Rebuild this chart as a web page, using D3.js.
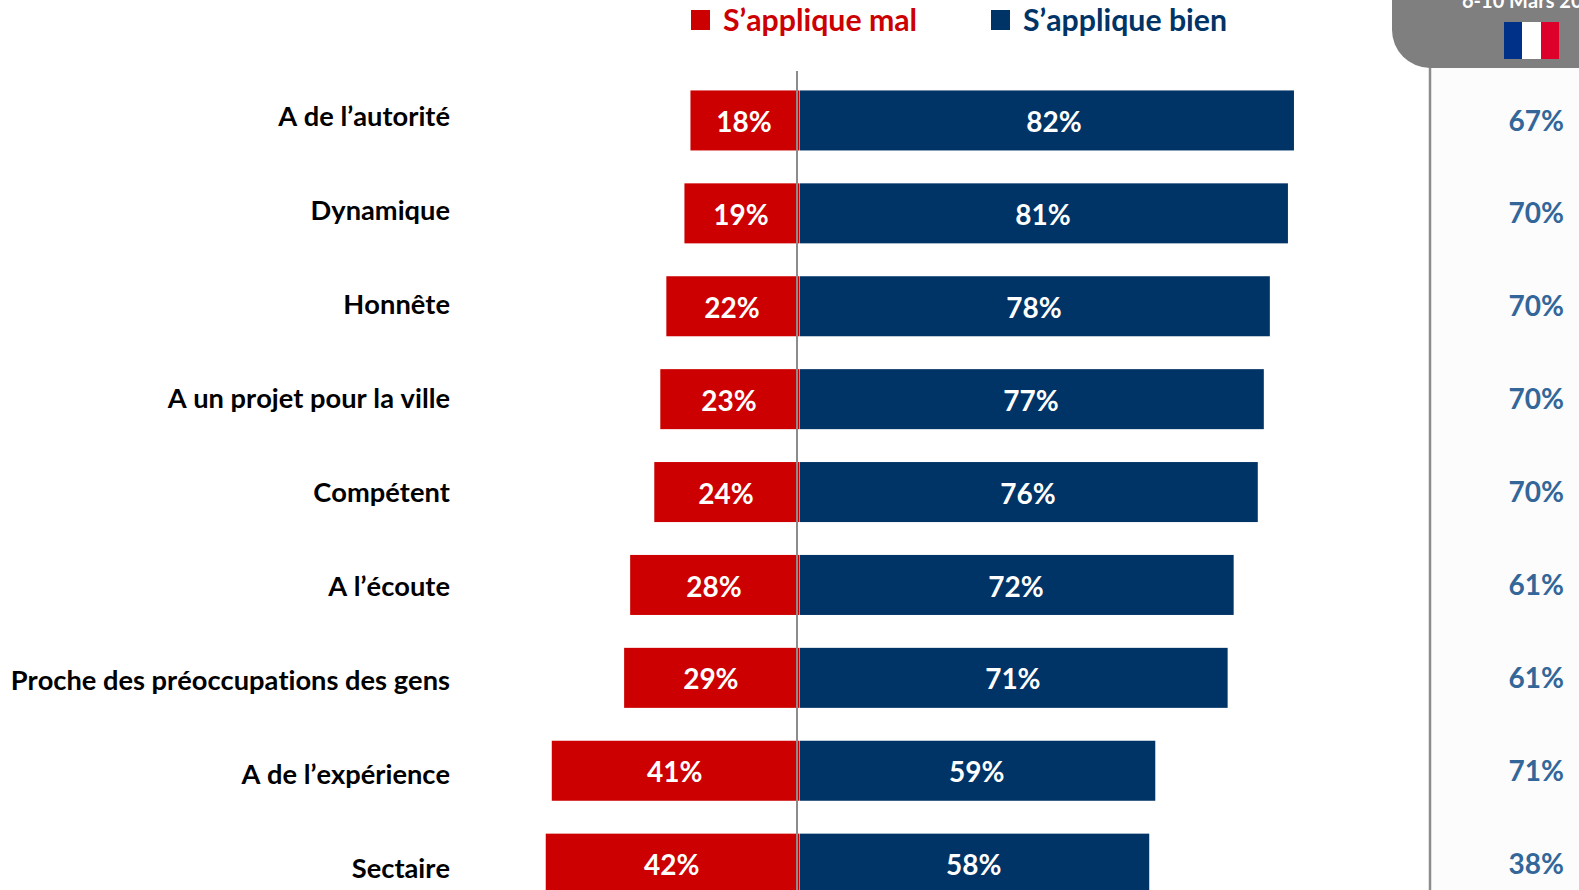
<!DOCTYPE html>
<html><head><meta charset="utf-8">
<script src="https://cdn.jsdelivr.net/npm/d3@7/dist/d3.min.js"></script>
<style>html,body{margin:0;padding:0;background:#fff;overflow:hidden}svg{display:block}text{font-family:Lato,sans-serif;font-weight:700;font-variant-ligatures:none;font-kerning:none}</style>
</head><body><svg id="c" width="1579" height="890"></svg>
<script>
const categories=["A de l’autorité","Dynamique","Honnête","A un projet pour la ville","Compétent","A l’écoute","Proche des préoccupations des gens","A de l’expérience","Sectaire"];
const mal=[18,19,22,23,24,28,29,41,42];
const bien=[82,81,78,77,76,72,71,59,58];
const previous=[67,70,70,70,70,61,61,71,38];
const legendLabels=["S’applique mal","S’applique bien"];
const panelDate="6-10 Mars 2020";
const RED="#cc0000",NAVY="#003366",BLUE="#336699",GREY="#7f7f7f";
const svg=d3.select("#c");
const xL=d3.scaleLinear().domain([0,100]).range([799,196]);
const xR=d3.scaleLinear().domain([0,100]).range([799.5,1402.5]);
const y=d3.scaleBand().domain(categories).range([74,74+92.9*9]).paddingInner(0.354).paddingOuter(0.177);
const yCat=d3.scalePoint().domain(categories).range([116,868]);
const fs=28;
// right panel
svg.append("rect").attr("x",1429).attr("y",60).attr("width",150).attr("height",830).attr("fill","#fcfcfc");
svg.append("line").attr("x1",1430).attr("x2",1430).attr("y1",60).attr("y2",890).attr("stroke","#8c8c8c").attr("stroke-width",2.5);
svg.append("rect").attr("x",1392).attr("y",-60).attr("width",260).attr("height",128).attr("rx",38).attr("fill",GREY);
svg.append("text").attr("x",1462).attr("y",8).attr("font-size",20).attr("fill","#fff").text(panelDate);
const flag=[["#003189",1504,18],["#fff",1522,19],["#dc002b",1541,18]];
svg.selectAll(".flag").data(flag).join("rect").attr("x",d=>d[1]).attr("y",22).attr("width",d=>d[2]).attr("height",37).attr("fill",d=>d[0]);
// legend
const lg=svg.selectAll(".lg").data(legendLabels).join("g");
lg.append("rect").attr("x",(d,i)=>[691,991][i]).attr("y",10).attr("width",19).attr("height",20).attr("fill",(d,i)=>[RED,NAVY][i]);
lg.append("text").attr("x",(d,i)=>[723,1023][i]).attr("y",31).attr("font-size",30.25).attr("fill",(d,i)=>[RED,NAVY][i]).text(d=>d);
// bars
svg.selectAll(".m").data(categories).join("rect").attr("x",(d,i)=>xL(mal[i])).attr("y",d=>y(d)).attr("width",(d,i)=>xL(0)-xL(mal[i])).attr("height",y.bandwidth()).attr("fill",RED);
svg.selectAll(".b").data(categories).join("rect").attr("x",xR(0)).attr("y",d=>y(d)).attr("width",(d,i)=>xR(bien[i])-xR(0)).attr("height",y.bandwidth()).attr("fill",NAVY);
svg.append("line").attr("x1",797).attr("x2",797).attr("y1",71).attr("y2",890).attr("stroke","#8c8c8c").attr("stroke-width",2);
// labels
const mid=d=>y(d)+y.bandwidth()/2;
svg.selectAll(".lm").data(categories).join("text").attr("x",(d,i)=>(xL(mal[i])+xL(0))/2-0.7).attr("y",d=>mid(d)+1.5).attr("dy",".36em").attr("text-anchor","middle").attr("font-size",fs).attr("fill","#fff").text((d,i)=>mal[i]+"%");
svg.selectAll(".lb").data(categories).join("text").attr("x",(d,i)=>(xR(bien[i])+xR(0))/2-0.7+(i===0?8:0)).attr("y",d=>mid(d)+1.5).attr("dy",".36em").attr("text-anchor","middle").attr("font-size",fs).attr("fill","#fff").text((d,i)=>bien[i]+"%");
svg.selectAll(".cat").data(categories).join("text").attr("x",450).attr("y",d=>yCat(d)).attr("dy",".36em").attr("text-anchor","end").attr("font-size",27.25).attr("fill","#000").text(d=>d);
svg.selectAll(".pv").data(categories).join("text").attr("x",1564).attr("y",d=>mid(d)).attr("dy",".36em").attr("text-anchor","end").attr("font-size",fs).attr("fill",BLUE).text((d,i)=>previous[i]+"%");
</script></body></html>
